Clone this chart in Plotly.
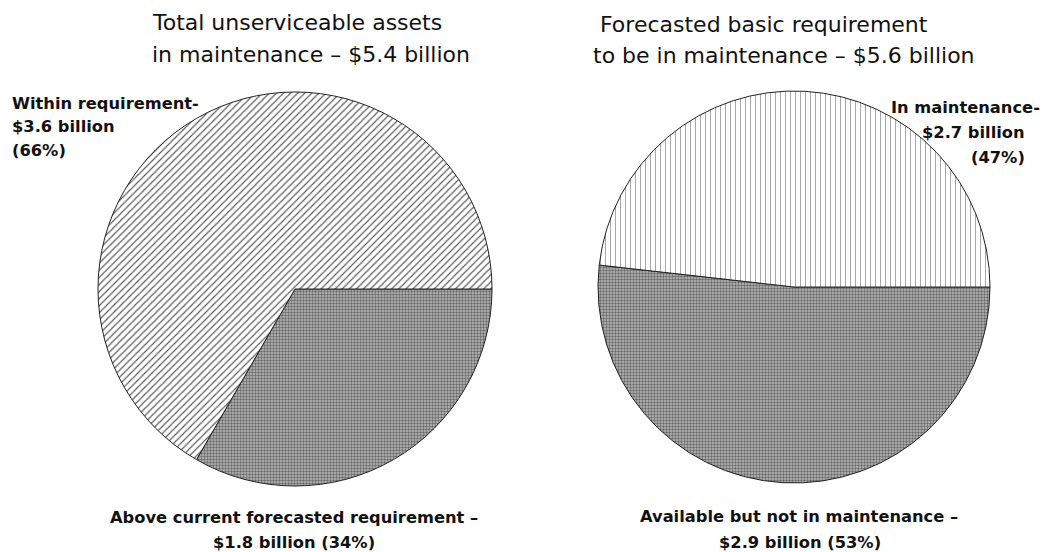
import plotly.graph_objects as go

# Data (billions of dollars)
left_labels = ["Above current forecasted requirement", "Within requirement"]
left_values = [1.8, 3.6]
right_labels = ["Available but not in maintenance", "In maintenance"]
right_values = [2.9, 2.7]

left_title = ["Total unserviceable assets", "in maintenance – $5.4 billion"]
right_title = ["Forecasted basic requirement", "to be in maintenance – $5.6 billion"]

W, H = 1050, 552
OFF = 8  # page body margin
FONT = "DejaVu Sans, Liberation Sans, Arial, sans-serif"

def px(x):
    return (x - OFF) / W

def py(y):
    return 1 - (y - OFF) / H

fig = go.Figure()

def domain(cx, cy, r):
    return dict(x=[px(cx - r), px(cx + r)], y=[py(cy + r), py(cy - r)])

fig.add_trace(go.Pie(
    labels=left_labels, values=left_values, sort=False, direction="clockwise",
    rotation=90, textinfo="none", hoverinfo="label+value",
    domain=domain(295, 289, 197),
    marker=dict(
        colors=["#a8a8a8", "white"],
        line=dict(color="#222222", width=1),
        pattern=dict(
            shape=[".", "/"],
            bgcolor=["#bababa", "white"],
            fgcolor=["#6a6a6a", "#555555"],
            size=[3, 5],
            solidity=[0.5, 0.22],
        ),
    ),
    showlegend=False,
))

fig.add_trace(go.Pie(
    labels=right_labels, values=right_values, sort=False, direction="clockwise",
    rotation=90, textinfo="none", hoverinfo="label+value",
    domain=domain(794, 287, 196),
    marker=dict(
        colors=["#a8a8a8", "white"],
        line=dict(color="#222222", width=1),
        pattern=dict(
            shape=[".", "|"],
            bgcolor=["#bababa", "white"],
            fgcolor=["#6a6a6a", "#a8a8a8"],
            size=[3, 5],
            solidity=[0.5, 0.2],
        ),
    ),
    showlegend=False,
))

ann = []

def add(text, x, y, size, bold=False, xanchor="left"):
    t = f"<b>{text}</b>" if bold else text
    if xanchor == "left":
        x -= 2
    elif xanchor == "right":
        x += 2
    ann.append(dict(text=t, x=px(x), y=py(y), xref="paper", yref="paper",
                    xanchor=xanchor, yanchor="middle", showarrow=False,
                    font=dict(family=FONT, size=size, color="#111111")))

TS = 22
LS = 16.3

# Titles
add(left_title[0], 152, 22, TS)
add(left_title[1], 152, 54, TS)
add(right_title[0], 600, 24, TS)
add(right_title[1], 593, 55, TS)

# Left slice labels
add("Within requirement-", 12, 103, LS, bold=True)
add("$3.6 billion", 12, 127, LS, bold=True)
add("(66%)", 12, 150, LS, bold=True)

# Right slice labels
add("In maintenance-", 1040, 107, LS, bold=True, xanchor="right")
add("$2.7 billion", 1025, 132, LS, bold=True, xanchor="right")
add("(47%)", 1025, 157, LS, bold=True, xanchor="right")

# Bottom labels
add("Above current forecasted requirement –", 294, 517, LS, bold=True, xanchor="center")
add("$1.8 billion (34%)", 294, 542, LS, bold=True, xanchor="center")
add("Available but not in maintenance –", 799, 516, LS, bold=True, xanchor="center")
add("$2.9 billion (53%)", 800, 542, LS, bold=True, xanchor="center")

fig.update_layout(
    width=W, height=H,
    margin=dict(l=0, r=0, t=0, b=0),
    paper_bgcolor="white", plot_bgcolor="white",
    annotations=ann,
    showlegend=False,
)

fig.write_html("out.html")
